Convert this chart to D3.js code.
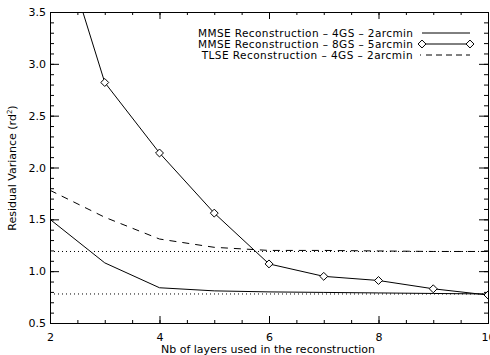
<!DOCTYPE html>
<html><head><meta charset="utf-8">
<script src="https://cdn.jsdelivr.net/npm/d3@7"></script>
<style>body{margin:0;background:#fff}svg{display:block}text{font-family:"DejaVu Sans",sans-serif;fill:#000}</style>
</head><body><svg id="c" width="490" height="355"></svg>
<script>
const layers = [2,3,4,5,6,7,8,9,10];
const mmse4gs = [1.50,1.08,0.84,0.81,0.80,0.795,0.79,0.785,0.78];
const mmse8gs = [4.52,2.82,2.14,1.56,1.07,0.95,0.91,0.83,0.77];
const tlse4gs = [1.78,1.52,1.31,1.23,1.20,1.20,1.195,1.19,1.19];
const refLines = [1.19,0.78];
const xTicks = [2,4,6,8,10];
const yTicks = [0.5,1.0,1.5,2.0,2.5,3.0,3.5];
const legendLabels = ["MMSE Reconstruction – 4GS – 2arcmin","MMSE Reconstruction – 8GS – 5arcmin","TLSE Reconstruction – 4GS – 2arcmin"];

const L=50,R=488,T=12,B=323;
const svg=d3.select("#c");
const x=d3.scaleLinear().domain([2,10]).range([L,R]);
const y=d3.scaleLinear().domain([0.5,3.5]).range([B,T]);

svg.append("defs").append("clipPath").attr("id","clip").append("rect")
  .attr("x",L).attr("y",T).attr("width",R-L).attr("height",B-T);

function ax(gen,tr){return svg.append("g").attr("transform",tr).call(gen).call(g=>g.select(".domain").attr("stroke","#000"));}
const minorX=d3.range(2,10.01,0.5), minorY=d3.range(0.5,3.501,0.1);
ax(d3.axisBottom(x).tickValues(minorX).tickSize(-3).tickFormat(""),`translate(0,${B})`);
const bx=ax(d3.axisBottom(x).tickValues(xTicks).tickSize(-7).tickPadding(10).tickFormat(d3.format("d")),`translate(0,${B})`);
bx.selectAll("text").attr("font-size",11);
ax(d3.axisTop(x).tickValues(minorX).tickSize(-3).tickFormat(""),`translate(0,${T})`);
ax(d3.axisTop(x).tickValues(xTicks).tickSize(-7).tickFormat(""),`translate(0,${T})`);
ax(d3.axisLeft(y).tickValues(minorY).tickSize(-4).tickFormat(""),`translate(${L},0)`);
const ly=ax(d3.axisLeft(y).tickValues(yTicks).tickSize(-9).tickPadding(4).tickFormat(d3.format(".1f")),`translate(${L},0)`);
ly.selectAll("text").attr("font-size",11);
ax(d3.axisRight(y).tickValues(minorY).tickSize(-4).tickFormat(""),`translate(${R},0)`);
ax(d3.axisRight(y).tickValues(yTicks).tickSize(-9).tickFormat(""),`translate(${R},0)`);
svg.selectAll(".tick line").attr("stroke","#000");

const plot=svg.append("g").attr("clip-path","url(#clip)");
refLines.forEach(v=>plot.append("line").attr("x1",L).attr("x2",R).attr("y1",y(v)).attr("y2",y(v))
  .attr("stroke","#000").attr("stroke-width",1).attr("stroke-dasharray","1,3"));
const line=d3.line().x((d,i)=>x(layers[i])).y(d=>y(d));
plot.append("path").datum(mmse4gs).attr("d",line).attr("fill","none").attr("stroke","#000").attr("stroke-width",1);
plot.append("path").datum(tlse4gs).attr("d",line).attr("fill","none").attr("stroke","#000").attr("stroke-width",1).attr("stroke-dasharray","7,6");
plot.append("path").datum(mmse8gs).attr("d",line).attr("fill","none").attr("stroke","#000").attr("stroke-width",1);
const diamond=d3.symbol().type(d3.symbolDiamond2).size(40);
plot.selectAll(".dm").data(mmse8gs).join("path").attr("class","dm")
  .attr("transform",(d,i)=>`translate(${x(layers[i])},${y(d)})`).attr("d",diamond)
  .attr("fill","#fff").attr("stroke","#000").attr("stroke-width",1);

const lg=svg.append("g");
legendLabels.forEach((t,i)=>{
  const yy=33+i*11;
  lg.append("text").attr("x",413).attr("y",yy+4).attr("text-anchor","end").attr("font-size",10.5)
    .attr("textLength",215).attr("lengthAdjust","spacing").text(t);
  const ln=lg.append("line").attr("x1",422).attr("x2",470).attr("y1",yy).attr("y2",yy).attr("stroke","#000");
  if(i===2) ln.attr("stroke-dasharray","1,5,6,4,6,4,6,4,6,4,6,20").attr("x1",420);
  if(i===1){[422,470].forEach(px=>lg.append("path").attr("transform",`translate(${px},${yy})`).attr("d",diamond).attr("fill","#fff").attr("stroke","#000"));}
});
lg.selectAll("text").filter((d,i)=>i===2).attr("textLength",null).attr("letter-spacing",0.45);

svg.append("text").attr("x",268).attr("y",353).attr("text-anchor","middle").attr("font-size",11).text("Nb of layers used in the reconstruction");
const yt=svg.append("text").attr("transform","translate(16,168) rotate(-90)").attr("text-anchor","middle").attr("font-size",11);
yt.append("tspan").text("Residual Variance (rd");
yt.append("tspan").attr("font-size",7).attr("dy",-4).text("2");
yt.append("tspan").attr("dy",4).text(")");
</script></body></html>
